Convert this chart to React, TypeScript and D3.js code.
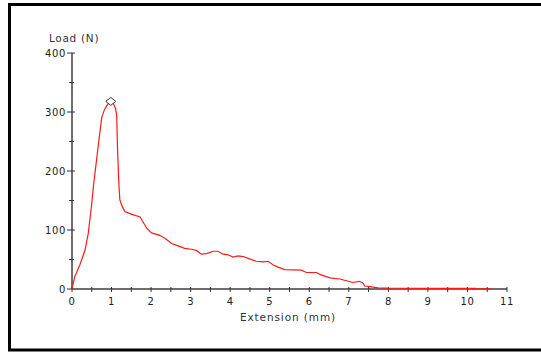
import React from "react";
import * as d3 from "d3";

// extension (mm) vs load (N)
const extension = [
  0, 0.07, 0.2, 0.33, 0.41, 0.5, 0.54, 0.66, 0.75, 0.82, 0.9, 0.98, 1.05, 1.1, 1.13, 1.15,
  1.18, 1.21, 1.27, 1.34, 1.5, 1.72, 1.89, 2.01, 2.22, 2.35, 2.52, 2.68, 2.85, 3.06,
  3.15, 3.27, 3.4, 3.57, 3.69, 3.82, 3.95, 4.07, 4.2, 4.33, 4.49, 4.66, 4.83, 4.96,
  5.08, 5.21, 5.38, 5.8, 5.93, 6.18, 6.3, 6.52, 6.77, 6.94, 7.1, 7.27, 7.36, 7.4, 7.53,
  7.74, 8.0, 9.0, 10.2, 10.25, 10.63,
];
const load = [
  0, 21, 41, 66, 94, 145, 173, 241, 290, 304, 313, 318, 314, 306, 295, 241,
  185, 151, 140, 131, 127, 122, 103, 95, 91, 86, 77, 73, 69, 67,
  65, 59, 60, 64, 64, 59, 58, 54, 56, 55, 51, 47, 46, 47,
  41, 37, 33, 32, 28, 28, 24, 19, 17, 14, 11, 13, 10, 5, 4,
  2, 1.5, 1.2, 1.2, 0.4, 0.4,
];
const peak = { x: 0.98, y: 318 };

const xTicks = d3.range(0, 12);
const yTicks = [0, 100, 200, 300, 400];
const xMinor = d3.range(0.5, 11, 1);
const yMinor = [50, 150, 250, 350];

const font = "'DejaVu Sans', Verdana, sans-serif";

export default function App() {
  const x = d3.scaleLinear().domain([0, 11]).range([72, 507]);
  const y = d3.scaleLinear().domain([0, 400]).range([289, 53]);
  const pts: [number, number][] = extension.map((e, i) => [e, load[i]]);
  const line = d3
    .line<[number, number]>()
    .x((d) => x(d[0]))
    .y((d) => y(d[1]))
    .curve(d3.curveLinear);
  const axisColor = "#6e6e6e";
  const px = x(peak.x);
  const py = y(peak.y);

  return (
    <svg
      width={541}
      height={352}
      style={{ position: "absolute", left: 0, top: 0, display: "block", background: "#fff" }}
    >
      {/* frame */}
      <path d="M9.5,351 L9.5,4.5 L541,4.5" fill="none" stroke="#000" strokeWidth={3} />
      <line x1={8} x2={541} y1={350} y2={350} stroke="#000" strokeWidth={3} />

      {/* y axis */}
      <line x1={x(0)} x2={x(0)} y1={y(400)} y2={y(0)} stroke={axisColor} strokeWidth={2} />
      {yTicks.map((t) => (
        <g key={"y" + t}>
          <line x1={x(0) - 5} x2={x(0) + 3} y1={y(t)} y2={y(t)} stroke="#333" strokeWidth={1} />
          <text x={x(0) - 6} y={y(t) + 3.7} textAnchor="end" fontSize={10} fontFamily={font} fill="#222" letterSpacing={0.6}>
            {t}
          </text>
        </g>
      ))}
      {yMinor.map((t) => (
        <line key={"ym" + t} x1={x(0) - 3} x2={x(0) + 2} y1={y(t)} y2={y(t)} stroke="#333" strokeWidth={1} />
      ))}

      {/* x axis */}
      <line x1={x(0)} x2={x(11)} y1={y(0)} y2={y(0)} stroke={axisColor} strokeWidth={2} />
      {xTicks.map((t) => (
        <g key={"x" + t}>
          <line x1={x(t)} x2={x(t)} y1={y(0) - 2} y2={y(0) + 3} stroke="#333" strokeWidth={1} />
          <text x={x(t)} y={y(0) + 15.5} textAnchor="middle" fontSize={10} fontFamily={font} fill="#222" letterSpacing={0.6}>
            {t}
          </text>
        </g>
      ))}
      {xMinor.map((t) => (
        <line key={"xm" + t} x1={x(t)} x2={x(t)} y1={y(0) - 2} y2={y(0) + 3} stroke="#333" strokeWidth={1} />
      ))}

      {/* curve */}
      <path d={line(pts) || ""} fill="none" stroke="#ff1a1a" strokeWidth={1.2} />

      {/* peak marker */}
      <path
        d={`M${px - 5},${py} L${px},${py - 4} L${px + 5},${py} L${px},${py + 4} Z`}
        fill="#fff"
        stroke="#333"
        strokeWidth={1}
      />

      {/* axis titles */}
      <text x={49} y={41.5} fontSize={10.5} fontFamily={font} fill="#333" letterSpacing={0.7}>
        Load (N)
      </text>
      <text x={288} y={321} textAnchor="middle" fontSize={10.5} fontFamily={font} fill="#333" letterSpacing={0.9}>
        Extension (mm)
      </text>
    </svg>
  );
}
